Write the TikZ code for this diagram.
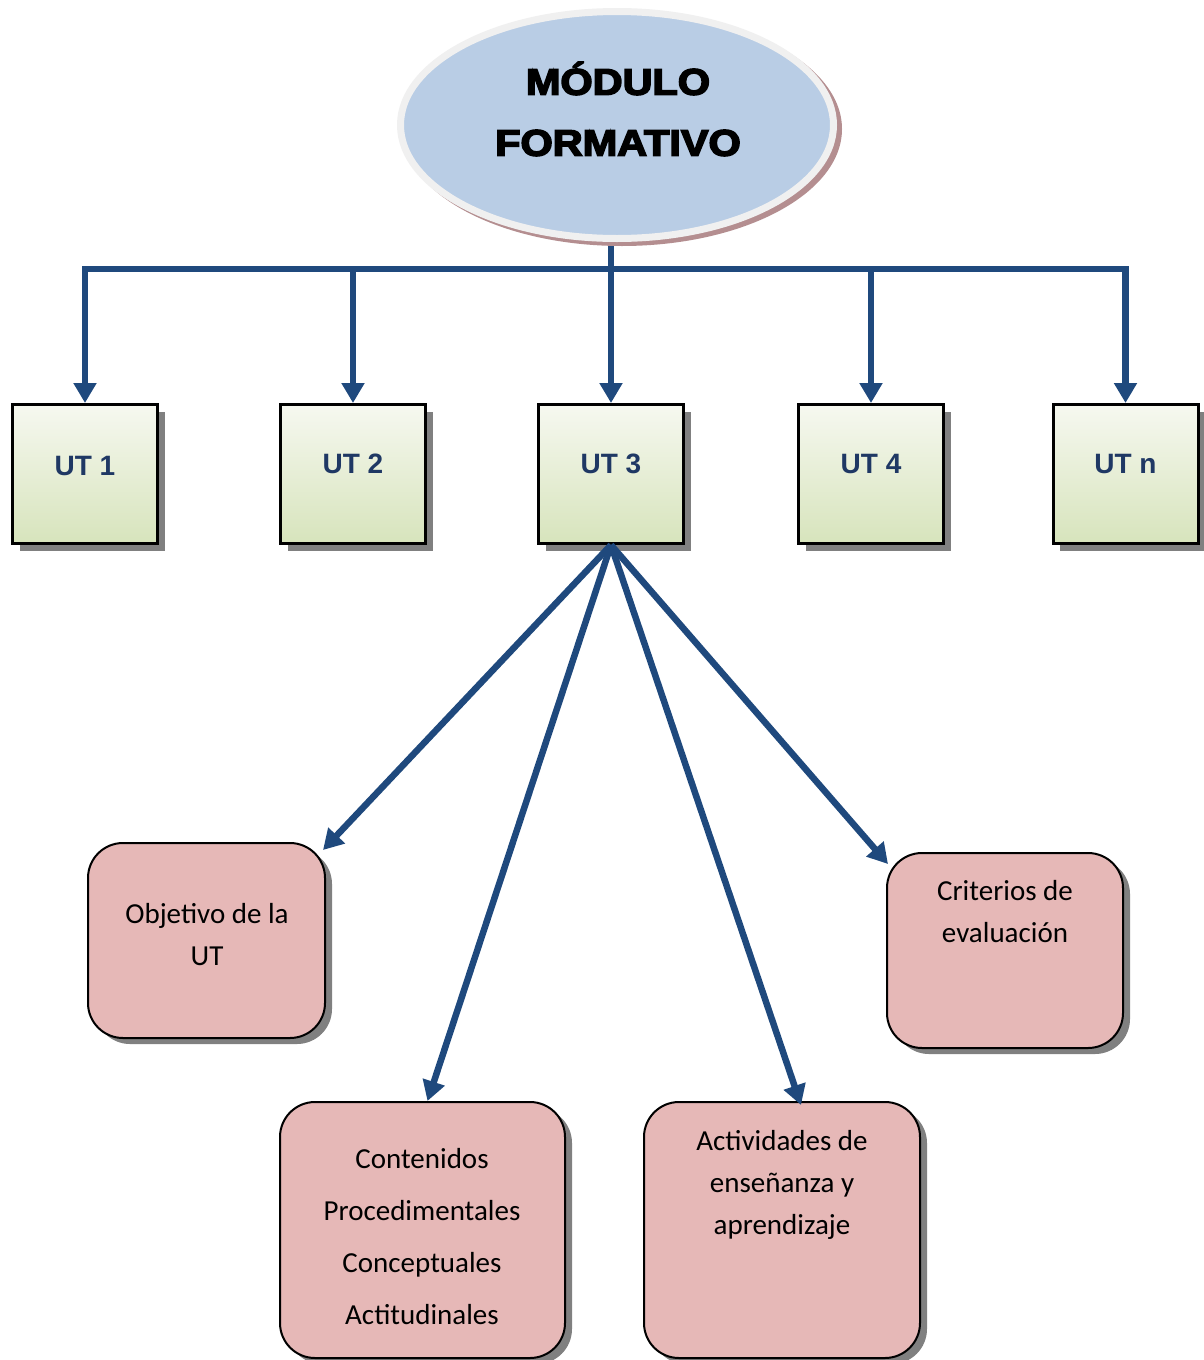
\documentclass[tikz,border=0pt]{standalone}
\usepackage{fontspec}
\setmainfont{Carlito}
\newfontfamily\arialf{Liberation Sans}
\newfontfamily\heavyf{Liberation Sans}[BoldFeatures={FakeBold=4}]
\usetikzlibrary{arrows.meta,shapes.geometric,shadows,calc}
\definecolor{connblue}{HTML}{1F497D}
\definecolor{utTop}{HTML}{F6F8F0}
\definecolor{utBottom}{HTML}{D7E4BC}
\definecolor{utText}{HTML}{1F3864}
\definecolor{shadowgray}{HTML}{808080}
\definecolor{pinkfill}{HTML}{E6B8B7}
\definecolor{modblue}{HTML}{B9CDE5}
\definecolor{modrim}{HTML}{F0F0F0}
\definecolor{modshadow}{HTML}{B48E90}
\begin{document}
\begin{tikzpicture}[x=1pt,y=-1pt,
  link/.style={draw=connblue,line width=6.5pt},
  arrowlink/.style={link,-{Triangle[width=22pt,length=20pt]}},
  utbox/.style={rectangle,draw=black,line width=3pt,top color=utTop,bottom color=utBottom,
    minimum width=145pt,minimum height=139pt,inner sep=0pt,
    drop shadow={shadow xshift=7pt,shadow yshift=-7pt,fill=shadowgray,opacity=1}},
  uttext/.style={font=\arialf\bfseries\fontsize{28pt}{32pt}\selectfont,text=utText,inner sep=0pt},
  pinkbox/.style={rectangle,rounded corners=35pt,draw=black,line width=2pt,fill=pinkfill,inner sep=0pt,
    drop shadow={shadow xshift=7pt,shadow yshift=-6pt,fill=shadowgray,opacity=1}},
  pinktext/.style={font=\fontsize{29pt}{42pt}\selectfont,align=center,inner sep=0pt},
  modtext/.style={font=\heavyf\bfseries\fontsize{37pt}{61pt}\selectfont,align=center,inner sep=0pt}]
\useasboundingbox (0,0) rectangle (1204,1360);
\fill[white] (0,0) rectangle (1204,1360);

% module ellipse
\fill[modshadow] (622,129) ellipse [x radius=220, y radius=117];
\node[ellipse,draw=modrim,line width=7pt,fill=modblue,minimum width=433pt,minimum height=227pt,inner sep=0pt] (mod) at (617,125) {};
\node[modtext] (modt) at (618,109) {\scalebox{1.12}[1]{MÓDULO}\\\scalebox{1.12}[1]{FORMATIVO}};

% UT boxes
\node[utbox] (ut1) at (85,474) {};
\node[utbox] (ut2) at (353,474) {};
\node[utbox] (ut3) at (611,474) {};
\node[utbox] (ut4) at (871,474) {};
\node[utbox] (utn) at (1125.5,474) {};
\node[uttext] (ut1t) at (85,466) {UT 1};
\node[uttext] (ut2t) at (353,464) {UT 2};
\node[uttext] (ut3t) at (611,464) {UT 3};
\node[uttext] (ut4t) at (871,464) {UT 4};
\node[uttext] (utnt) at (1125.5,464) {UT n};

% pink boxes
\node[pinkbox,minimum width=237pt,minimum height=195pt] (obj) at (206.5,940.5) {};
\node[pinkbox,minimum width=236pt,minimum height=195pt] (crit) at (1005,950.5) {};
\node[pinkbox,minimum width=285pt,minimum height=256pt] (cont) at (422.5,1230) {};
\node[pinkbox,minimum width=276pt,minimum height=256pt] (act) at (782,1230) {};

\node[pinktext] (objt) at (207,935) {Objetivo de la\\UT};
\node[pinktext] (critt) at (1005,912) {Criterios de\\evaluación};
\node[pinktext] (actt) at (782,1185) {Actividades de\\enseñanza y\\aprendizaje};
\node[pinktext,font=\fontsize{29pt}{52pt}\selectfont] (contt) at (422,1237) {Contenidos\\Procedimentales\\Conceptuales\\Actitudinales};

% connectors
\coordinate (bus) at (611,269);
\draw[link] ($(bus |- mod.south)+(0,4)$) -- (bus);
\draw[arrowlink] (bus) -| (ut1.north);
\draw[arrowlink] (bus) -| (ut2.north);
\draw[arrowlink] (bus) -- (ut3.north);
\draw[arrowlink] (bus) -| (ut4.north);
\draw[arrowlink] (bus) -| (utn.north);

\draw[arrowlink] (ut3.south) -- ($(obj.north east)+(-3,8)$);
\draw[arrowlink] (ut3.south) -- ($(cont.north)+(5,0)$);
\draw[arrowlink] (ut3.south) -- ($(act.north)+(19,4)$);
\draw[arrowlink] (ut3.south) -- ($(crit.north west)+(2,12)$);
\end{tikzpicture}
\end{document}
